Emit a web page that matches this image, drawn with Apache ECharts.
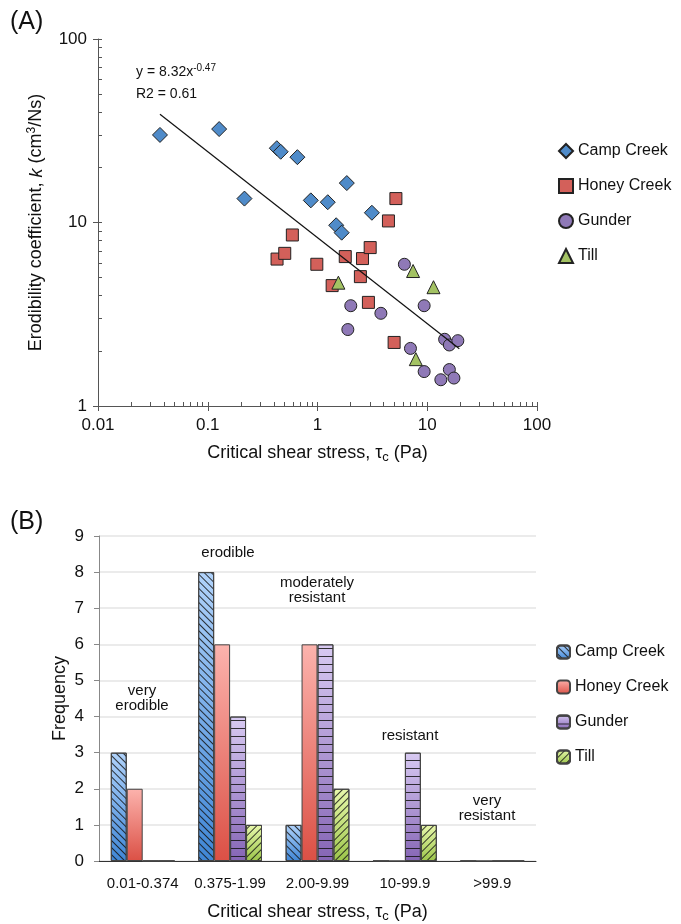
<!DOCTYPE html>
<html>
<head>
<meta charset="utf-8">
<script src="https://cdn.jsdelivr.net/npm/echarts@6/dist/echarts.min.js"></script>
<style>
html, body {margin: 0; padding: 0; background: #fff;}
#chart {width: 681px; height: 924px;}
</style>
</head>
<body>
<div id="chart"></div>
<script>
// (A) critical shear stress tau_c (Pa) vs erodibility k (cm3/Ns)
const campCreek = [[0.0367, 30.0], [0.127, 32.3], [0.216, 13.5], [0.426, 25.4], [0.462, 24.3], [0.656, 22.7],
	[0.869, 13.2], [1.24, 12.9], [1.48, 9.66], [1.66, 8.8], [1.85, 16.4], [3.13, 11.3]]
const honeyCreek = [[0.428, 6.32], [0.503, 6.79], [0.59, 8.55], [0.986, 5.92], [1.36, 4.53], [1.79, 6.52],
	[2.46, 5.07], [2.57, 6.36], [2.91, 3.67], [3.02, 7.30], [4.43, 10.2], [4.99, 2.22], [5.18, 13.5]]
const gunder = [[1.89, 2.61], [2.01, 3.52], [3.78, 3.20], [6.19, 5.92], [7.03, 2.06], [9.37, 3.52], [9.37, 1.54],
	[13.3, 1.39], [14.4, 2.31], [15.9, 2.15], [15.9, 1.58], [17.5, 1.42], [19.0, 2.27]]
const till = [[1.55, 4.70], [7.43, 5.44], [7.87, 1.80], [11.4, 4.44]]
// power fit y = 8.32x^-0.47, end points as drawn
const trendLine = [[0.0367, 38.9], [19.6, 2.05]]
const xMinorTicks = [0.01, 0.02, 0.03, 0.04, 0.05, 0.06, 0.07, 0.08, 0.09, 0.1, 0.2, 0.3, 0.4, 0.5, 0.6, 0.7, 0.8, 0.9,
	1, 2, 3, 4, 5, 6, 7, 8, 9, 10, 20, 30, 40, 50, 60, 70, 80, 90, 100]
const yMinorTicks = [1, 2, 3, 4, 5, 6, 7, 8, 9, 10, 20, 30, 40, 50, 60, 70, 80, 90, 100]

// (B) frequency per shear stress class
const stressClasses = ['0.01-0.374', '0.375-1.99', '2.00-9.99', '10-99.9', '>99.9']
const campFreq = [3, 8, 1, 0, 0]
const honeyFreq = [2, 6, 6, 0, 0]
const gunderFreq = [0, 4, 6, 3, 0]
const tillFreq = [0, 1, 2, 1, 0]

const font = 'Liberation Sans'
const chart = echarts.init(document.getElementById('chart'))

const grad = (top, bottom) => new echarts.graphic.LinearGradient(0, 0, 0, 1, [
	{offset: 0, color: top}, {offset: 1, color: bottom}
])
const hatch = (rotation, gap) => ({
	symbol: 'rect', symbolSize: 1, dashArrayX: [1, 0], dashArrayY: [1, gap],
	rotation: rotation, color: 'rgba(20,20,20,0.85)'
})
const barStyle = (color, decal) => ({color: color, borderColor: '#444', borderWidth: 1, decal: decal})
const scatterStyle = color => ({color: color, borderColor: '#222', borderWidth: 1, opacity: 1})

const txt = (text, x, y, size, align, rich) => ({
	type: 'text', x: x, y: y,
	style: {text: text, fill: '#111', font: size + 'px "' + font + '"', align: align || 'center', verticalAlign: 'middle', rich: rich}
})
const supRich = {sup: {fontSize: 10, padding: [0, 0, 8, 0], fontFamily: font, color: '#111'}}

const option = {
	animation: false,
	textStyle: {fontFamily: font},
	grid: [
		{left: 98, top: 39, width: 439, height: 367},
		{left: 99, top: 536, width: 437, height: 327}
	],
	legend: [
		{
			orient: 'vertical', left: 558, top: 143, padding: 0, itemGap: 19, itemWidth: 14, itemHeight: 14,
			textStyle: {fontSize: 16, color: '#111', fontFamily: font},
			data: ['Camp Creek', 'Honey Creek', 'Gunder', 'Till'].map(n => ({name: n})),
			selectedMode: false
		},
		{
			orient: 'vertical', left: 556, top: 644, padding: 0, itemGap: 19, itemWidth: 13, itemHeight: 13,
			textStyle: {fontSize: 16, color: '#111', fontFamily: font},
			data: ['Camp Creek ', 'Honey Creek ', 'Gunder ', 'Till '],
			selectedMode: false
		}
	],
	xAxis: [
		{
			gridIndex: 0, type: 'log', logBase: 10, min: 0.01, max: 100,
			axisLine: {lineStyle: {color: '#555', width: 1}},
			axisTick: {inside: false, length: 5, lineStyle: {color: '#555'}},
			axisLabel: {fontSize: 17, color: '#111', margin: 11},
			splitLine: {show: false},
			name: 'Critical shear stress, τ{sub|c} (Pa)', nameLocation: 'middle', nameGap: 36,
			nameTextStyle: {fontSize: 18, color: '#111', rich: {sub: {fontSize: 13, padding: [9, 0, 0, 0], color: '#111'}}}
		},
		{
			gridIndex: 0, type: 'log', logBase: 10, min: 0.01, max: 100, position: 'bottom',
			axisLine: {show: false}, axisLabel: {show: false}, splitLine: {show: false},
			axisTick: {inside: true, length: 4, customValues: xMinorTicks, lineStyle: {color: '#555'}}
		},
		{
			gridIndex: 1, type: 'category', data: stressClasses,
			axisLine: {lineStyle: {color: '#333', width: 1}},
			axisTick: {length: 6, lineStyle: {color: '#333'}},
			axisLabel: {fontSize: 15, color: '#111', margin: 15, interval: 0},
			name: 'Critical shear stress, τ{sub|c} (Pa)', nameLocation: 'middle', nameGap: 40,
			nameTextStyle: {fontSize: 18, color: '#111', rich: {sub: {fontSize: 13, padding: [9, 0, 0, 0], color: '#111'}}}
		}
	],
	yAxis: [
		{
			gridIndex: 0, type: 'log', logBase: 10, min: 1, max: 100,
			axisLine: {show: true, lineStyle: {color: '#555', width: 1}},
			axisTick: {show: true, inside: false, length: 5, lineStyle: {color: '#555'}},
			axisLabel: {fontSize: 17, color: '#111', margin: 11},
			splitLine: {show: false},
			name: 'Erodibility coefficient, {i|k} (cm{sup|3}/Ns)', nameLocation: 'middle', nameGap: 51,
			nameMoveOverlap: false,
			nameTextStyle: {fontSize: 18, color: '#111', rich: {
				i: {fontSize: 18, fontStyle: 'italic', color: '#111'},
				sup: {fontSize: 12, padding: [0, 0, 9, 0], color: '#111'}
			}}
		},
		{
			gridIndex: 0, type: 'log', logBase: 10, min: 1, max: 100, position: 'left',
			axisLine: {show: false}, axisLabel: {show: false}, splitLine: {show: false},
			axisTick: {show: true, inside: true, length: 4, customValues: yMinorTicks, lineStyle: {color: '#555'}}
		},
		{
			gridIndex: 1, type: 'value', min: 0, max: 9, interval: 1,
			axisLine: {show: true, lineStyle: {color: '#888', width: 1}},
			axisTick: {show: true, length: 5, lineStyle: {color: '#888'}},
			axisLabel: {fontSize: 17, color: '#111', margin: 15},
			splitLine: {show: true, lineStyle: {color: '#e4e4e4', width: 1.5}},
			name: 'Frequency', nameLocation: 'middle', nameGap: 30, nameMoveOverlap: false,
			nameTextStyle: {fontSize: 18, color: '#111'}
		}
	],
	series: [
		{name: 'Camp Creek', type: 'scatter', xAxisIndex: 0, yAxisIndex: 0, data: campCreek,
			symbol: 'diamond', symbolSize: 15, itemStyle: scatterStyle('#4f8bc9')},
		{name: 'Honey Creek', type: 'scatter', xAxisIndex: 0, yAxisIndex: 0, data: honeyCreek,
			symbol: 'rect', symbolSize: 12, itemStyle: scatterStyle('#d3605a')},
		{name: 'Gunder', type: 'scatter', xAxisIndex: 0, yAxisIndex: 0, data: gunder,
			symbol: 'circle', symbolSize: 12, itemStyle: scatterStyle('#8f79b7')},
		{name: 'Till', type: 'scatter', xAxisIndex: 0, yAxisIndex: 0, data: till,
			symbol: 'triangle', symbolSize: 13, itemStyle: scatterStyle('#a3c263')},
		{name: 'trend', type: 'line', xAxisIndex: 0, yAxisIndex: 0, data: trendLine, z: 5,
			showSymbol: false, symbol: 'none', lineStyle: {color: '#111', width: 1.2}},

		{name: 'Camp Creek ', type: 'bar', xAxisIndex: 2, yAxisIndex: 2, data: campFreq,
			barGap: '0%', barCategoryGap: '27%',
			itemStyle: barStyle(grad('#b0d2fa', '#3f86d6'), hatch(Math.PI / 4, 4))},
		{name: 'Honey Creek ', type: 'bar', xAxisIndex: 2, yAxisIndex: 2, data: honeyFreq,
			barGap: '0%', barCategoryGap: '27%',
			itemStyle: barStyle(grad('#fcb3ad', '#db5045'))},
		{name: 'Gunder ', type: 'bar', xAxisIndex: 2, yAxisIndex: 2, data: gunderFreq,
			barGap: '0%', barCategoryGap: '27%',
			itemStyle: barStyle(grad('#d8caf2', '#8565b5'), hatch(0, 6.5))},
		{name: 'Till ', type: 'bar', xAxisIndex: 2, yAxisIndex: 2, data: tillFreq,
			barGap: '0%', barCategoryGap: '27%',
			itemStyle: barStyle(grad('#e8f8ac', '#9cc54a'), hatch(-Math.PI / 4, 4))}
	],
	graphic: [
		txt('(A)', 10, 22, 25, 'left'),
		txt('(B)', 10, 522, 25, 'left'),
		txt('y = 8.32x{sup|-0.47}', 136, 72, 14, 'left', supRich),
		txt('R2 = 0.61', 136, 94, 14, 'left'),
		txt('very\nerodible', 142, 698, 15),
		txt('erodible', 228, 553, 15),
		txt('moderately\nresistant', 317, 590, 15),
		txt('resistant', 410, 736, 15),
		txt('very\nresistant', 487, 808, 15)
	]
}
chart.setOption(option)
</script>
</body>
</html>
